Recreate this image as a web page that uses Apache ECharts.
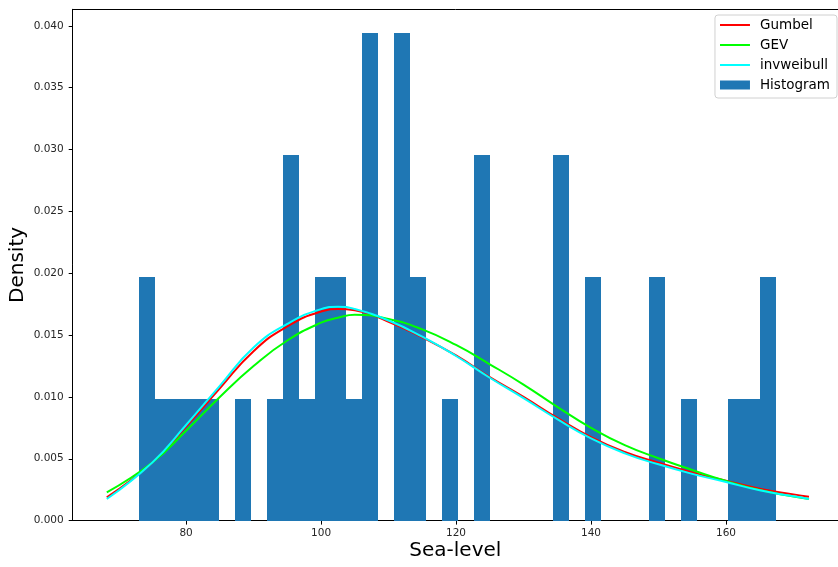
<!DOCTYPE html>
<html>
<head>
<meta charset="utf-8">
<script src="https://cdn.jsdelivr.net/npm/echarts@6/dist/echarts.min.js"></script>
<style>html,body{margin:0;padding:0;background:#fff}#c{width:838px;height:567px}</style>
</head>
<body>
<div id="c"></div>
<script>
// ---- data ----
const binEdges = [73.08,75.44,77.80,80.16,82.52,84.88,87.23,89.59,91.95,94.31,96.67,99.03,101.39,103.75,106.11,108.47,110.82,113.18,115.54,117.90,120.26,122.62,124.98,127.34,129.70,132.06,134.41,136.77,139.13,141.49,143.85,146.21,148.57,150.93,153.29,155.65,158.00,160.36,162.72,165.08,167.44];
const histDensity = [0.0197,0.00985,0.00985,0.00985,0.00985,0,0.00985,0,0.00985,0.02955,0.00985,0.0197,0.0197,0.00985,0.0394,0,0.0394,0.0197,0,0.00985,0,0.02955,0,0,0,0,0.02955,0,0.0197,0,0,0,0.0197,0,0.00985,0,0,0.00985,0.00985,0.0197];
const xCurve =     [68.25,75,80,85,90,95,100,102.5,105,110,115,120,125,130,135,140,145,150,155,160,165,170,172.3];
const gumbel =     [0.00188,0.0047,0.0076,0.0107,0.0137,0.0157,0.0169,0.0171,0.0170,0.01608,0.01482,0.01335,0.0116,0.0100,0.0083,0.00675,0.00555,0.00468,0.0039,0.00322,0.00258,0.00212,0.00193];
const gev =        [0.00229,0.0047,0.00727,0.0100,0.0125,0.01456,0.0160,0.0164,0.01664,0.0163,0.01546,0.0142,0.01264,0.0110,0.0092,0.0075,0.0061,0.00504,0.00409,0.0032,0.00247,0.00195,0.00175];
const invweibull = [0.00175,0.0047,0.00773,0.0109,0.0140,0.0159,0.0171,0.0173,0.01711,0.01618,0.01487,0.01331,0.01155,0.0099,0.0082,0.00665,0.00544,0.00455,0.00378,0.00312,0.00245,0.00196,0.00175];
const xTicks = [80,100,120,140,160];
const yTicks = [0,0.005,0.010,0.015,0.020,0.025,0.030,0.035,0.040];

const font = 'DejaVu Sans';
const chart = echarts.init(document.getElementById('c'), null, {renderer:'canvas'});

const histData = histDensity.map((d,i)=>[binEdges[i], binEdges[i+1], d]).filter(r=>r[2]>0);
const pairs = ys => xCurve.map((x,i)=>[x, ys[i]]);
const lineIcon = 'path://M0,0L30,0L30,2L0,2Z';

function lineSeries(name, ys, color){
  return {
    name, type:'line', data:pairs(ys), smooth:0.5,
    symbol:'none', showSymbol:false,
    lineStyle:{color, width:2}, itemStyle:{color}, z:3, animation:false
  };
}

chart.setOption({
  animation:false,
  grid:{left:72.7, right:0, top:9.3, bottom:46.4, containLabel:false, outerBoundsMode:'none'},
  xAxis:[{
    type:'value', min:63.2, max:176.6, position:'bottom',
    name:'Sea-level', nameLocation:'middle', nameGap:20, nameMoveOverlap:false,
    nameTextStyle:{fontFamily:font, fontSize:20, color:'#000'},
    axisLine:{show:true, onZero:false, lineStyle:{color:'#000', width:1}},
    axisTick:{show:true, length:4, customValues:xTicks, lineStyle:{color:'#000'}},
    axisLabel:{customValues:xTicks, fontFamily:font, fontSize:10.5, color:'#262626', margin:7},
    splitLine:{show:false}
  },{
    type:'value', min:63.2, max:176.6, position:'top',
    axisLine:{show:true, onZero:false, lineStyle:{color:'#000', width:1}},
    axisTick:{show:false}, axisLabel:{show:false}, splitLine:{show:false}
  }],
  yAxis:{
    type:'value', min:0, max:0.04134,
    name:'Density', nameLocation:'middle', nameGap:45, nameMoveOverlap:false,
    nameTextStyle:{fontFamily:font, fontSize:20, color:'#000'},
    axisLine:{show:true, onZero:false, lineStyle:{color:'#000', width:1}},
    axisTick:{show:true, length:4, customValues:yTicks, lineStyle:{color:'#000'}},
    axisLabel:{customValues:yTicks, fontFamily:font, fontSize:10.5, color:'#262626', margin:9,
      formatter:v=>v.toFixed(3)},
    splitLine:{show:false}
  },
  legend:{
    orient:'vertical', right:1, top:15,
    data:[{name:'Gumbel', icon:lineIcon},{name:'GEV', icon:lineIcon},{name:'invweibull', icon:lineIcon},{name:'Histogram', icon:'rect'}],
    itemWidth:30, itemHeight:9, itemGap:6,
    padding:[3,7,6,5],
    backgroundColor:'rgba(255,255,255,0.8)', borderColor:'#d0d0d0', borderWidth:1, borderRadius:3,
    textStyle:{fontFamily:font, fontSize:13.5, color:'#000', lineHeight:14, padding:[0,0,0,5]}
  },
  series:[
    {
      name:'Histogram', type:'custom', data:histData, z:1,
      encode:{x:[0,1], y:2},
      itemStyle:{color:'#1f77b4'},
      renderItem:function(params, api){
        const p0 = api.coord([api.value(0), api.value(2)]);
        const p1 = api.coord([api.value(1), 0]);
        const x0 = Math.round(p0[0]), x1 = Math.round(p1[0]);
        const y0 = Math.round(p0[1]), y1 = Math.round(p1[1]);
        return {type:'rect', shape:{x:x0, y:y0, width:x1-x0, height:y1-y0},
          style:{fill:'#1f77b4'}};
      }
    },
    lineSeries('Gumbel', gumbel, '#ff0000'),
    lineSeries('GEV', gev, '#00ff00'),
    lineSeries('invweibull', invweibull, '#00ffff')
  ]
});
</script>
</body>
</html>
